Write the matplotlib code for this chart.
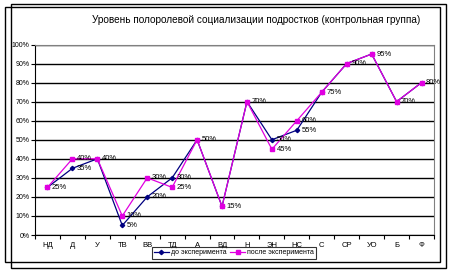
import matplotlib
matplotlib.use("Agg")
import matplotlib.pyplot as plt
from matplotlib.patches import Rectangle

# Данные
категории = ['НД', 'Д', 'У', 'ТВ', 'ВВ', 'ТД', 'А', 'ВД', 'Н', 'ЭН', 'НС', 'С', 'СР', 'УО', 'Б', 'Ф']
до = [25, 35, 40, 5, 20, 30, 50, 15, 70, 50, 55, 75, 90, 95, 70, 80]
после = [25, 40, 40, 10, 30, 25, 50, 15, 70, 45, 60, 75, 90, 95, 70, 80]

plt.rcParams['font.family'] = ['Liberation Sans', 'DejaVu Sans']

fig = plt.figure(figsize=(4.49, 2.74), dpi=100)
W, H = 449, 274
ax = fig.add_axes([35 / W, 1 - 235 / H, (434 - 35) / W, (235 - 44.5) / H])

x = list(range(len(категории)))
ax.plot(x, до, color='#000080', lw=0.9, marker='D', ms=2.2, label='до эксперимента', zorder=3)
ax.plot(x, после, color='#E000E0', lw=0.9, marker='s', ms=2.8, label='после эксперимента', zorder=4)

# подписи значений
for i, (a, b) in enumerate(zip(до, после)):
    ax.text(i + 0.18, b, f'{b}%', fontsize=5.5, va='center', ha='left', zorder=5)
    if a != b:
        ax.text(i + 0.18, a, f'{a}%', fontsize=5.5, va='center', ha='left', zorder=5)

ax.set_xlim(-0.5, len(категории) - 0.5)
ax.set_ylim(0, 100)
ax.set_yticks(range(0, 101, 10))
ax.set_yticklabels([f'{v}%' for v in range(0, 101, 10)], fontsize=5)
ax.set_xticks(x)
ax.set_xticklabels(категории, fontsize=5.5)
ax.set_xticks([i - 0.5 for i in range(len(категории) + 1)], minor=True)
ax.tick_params(axis='x', which='major', length=0, pad=5)
ax.tick_params(axis='x', which='minor', length=3, direction='out', width=0.8)
ax.tick_params(axis='y', length=3, width=0.8, pad=1)
ax.yaxis.grid(True, color='black', lw=1.0)
ax.set_axisbelow(True)
for s in ['top', 'right']:
    ax.spines[s].set_color('#808080')
for s in ['left', 'bottom']:
    ax.spines[s].set_color('black')

fig.text(256 / W, 1 - 20 / H, 'Уровень полоролевой социализации подростков (контрольная группа)',
         ha='center', va='center', fontsize=7.2)

leg = fig.legend(loc='center', bbox_to_anchor=(234 / W, 1 - 253 / H), ncol=2, fontsize=5,
                 frameon=True, fancybox=False, edgecolor='black', handlelength=2.2,
                 handletextpad=0.3, columnspacing=0.5, borderpad=0.3)
leg.get_frame().set_linewidth(0.8)

# рамки
fig.patches.append(Rectangle((11 / W, 1 - 268 / H), 435 / W, 264 / H, transform=fig.transFigure,
                             fill=False, ec='black', lw=1))
fig.patches.append(Rectangle((5 / W, 1 - 262 / H), 435 / W, 255 / H, transform=fig.transFigure,
                             fill=False, ec='black', lw=1))

fig.savefig('out.png', dpi=100)
